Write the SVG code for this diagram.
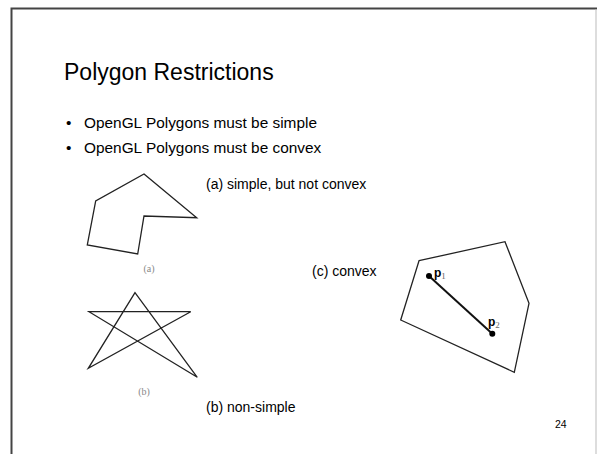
<svg xmlns="http://www.w3.org/2000/svg" width="597" height="454" viewBox="0 0 597 454">
<style>
.t{font-family:"Liberation Sans",Arial,sans-serif;fill:#000}
.ln{fill:none;stroke:#222;stroke-width:1.3;stroke-linejoin:miter}
.cap{font-family:"Liberation Serif",serif;font-size:10px;fill:#888}
</style>
<rect x="0" y="0" width="597" height="454" fill="#fff"/>
<path d="M11.5,454 V8.5 H597" fill="none" stroke="#444" stroke-width="2"/>
<line x1="596" y1="9" x2="596" y2="454" stroke="#bbb" stroke-width="1"/>
<text class="t" x="64" y="80" font-size="23">Polygon Restrictions</text>
<text class="t" x="66" y="128" font-size="15.4">•</text>
<text class="t" x="84" y="128" font-size="15.4">OpenGL Polygons must be simple</text>
<text class="t" x="66" y="153" font-size="15.4">•</text>
<text class="t" x="84" y="153" font-size="15.4">OpenGL Polygons must be convex</text>
<g id="fig-a">
<polygon class="ln" points="144,174 196.7,217.7 144,216 137.7,254 87.3,245 95.7,201"/>
<text class="cap" x="149" y="272" text-anchor="middle">(a)</text>
</g>
<g id="fig-b">
<polygon class="ln" points="135,292.7 88.3,368.3 190.7,311.7 89,311.7 197.3,377.3"/>
<text class="cap" x="144" y="395" text-anchor="middle">(b)</text>
</g>
<g id="fig-c">
<polygon class="ln" points="419,260.7 505,241.7 529,303.3 514.3,372.3 400.7,320"/>
<line x1="429" y1="276" x2="492.3" y2="333.7" stroke="#111" stroke-width="2"/>
<circle cx="429" cy="276" r="3" fill="#000"/>
<circle cx="492.3" cy="333.7" r="3" fill="#000"/>
<text x="434" y="277" font-family="Liberation Sans,sans-serif" font-size="12" font-weight="bold">p<tspan font-family="Liberation Serif,serif" font-weight="normal" font-size="9" fill="#666" dy="2">1</tspan></text>
<text x="488" y="326" font-family="Liberation Sans,sans-serif" font-size="12" font-weight="bold">p<tspan font-family="Liberation Serif,serif" font-weight="normal" font-size="9" fill="#666" dy="2">2</tspan></text>
</g>
<text class="t" x="206" y="189" font-size="14">(a) simple, but not convex</text>
<text class="t" x="206" y="412" font-size="14">(b) non-simple</text>
<text class="t" x="312" y="276" font-size="14">(c) convex</text>
<text class="t" x="555" y="428" font-size="10.5">24</text>
</svg>
